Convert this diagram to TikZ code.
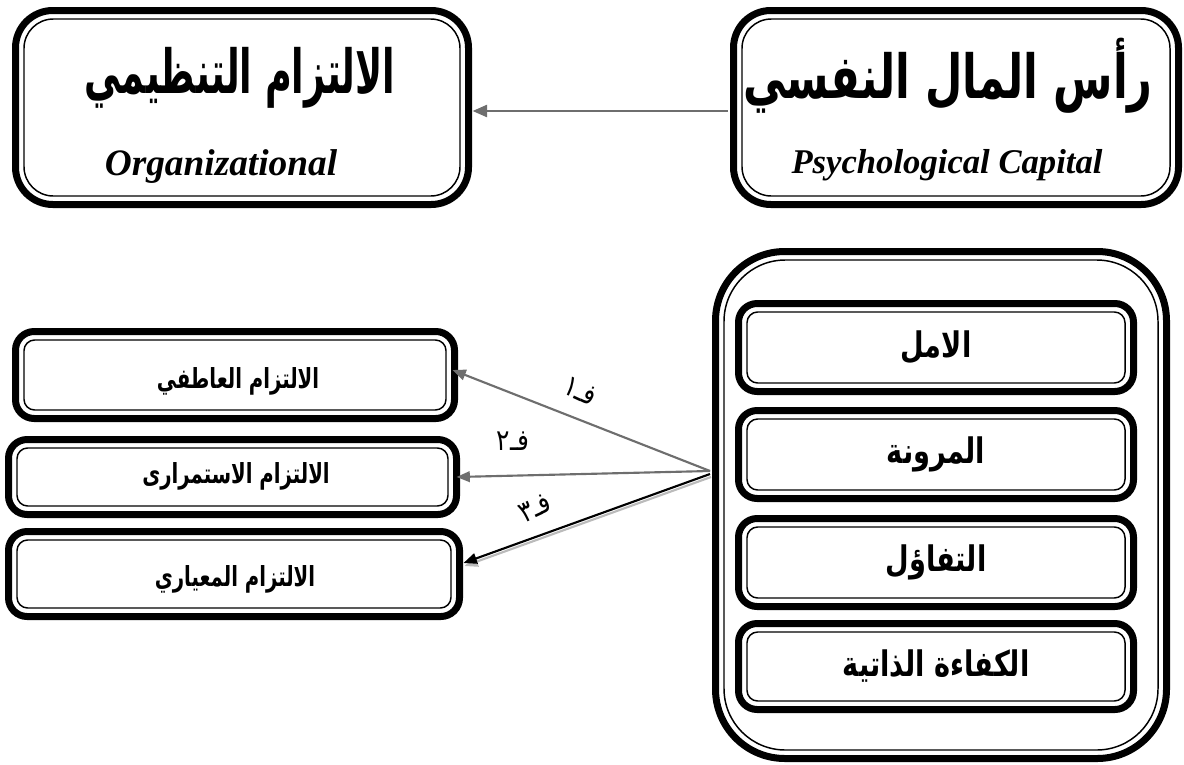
\documentclass[tikz,border=0pt]{standalone}
\usepackage{fontspec}
\usepackage{graphicx}
\usetikzlibrary{arrows.meta,fit,calc}
\TeXXeTstate=1
\newfontfamily\arabicfont[Script=Arabic]{DejaVu Sans}
\newfontfamily\enfont{Liberation Serif}
\definecolor{arrgray}{HTML}{6E6E6E}
\definecolor{shadowgray}{HTML}{BBBBBB}
\newcommand\dblbox[5]{%
  \node[fit={#2 #3}, boxouter, rounded corners=#4] (#1) {};
  \draw[boxinner, rounded corners=#5] ($(#1.north west)+(8.5,8.5)$) rectangle ($(#1.south east)+(-8.5,-8.5)$);
}
\newcommand\arb[1]{\arabicfont\fontsize{#1}{#1}\selectfont\bfseries}
\newcommand\arr[1]{\arabicfont\fontsize{#1}{#1}\selectfont}
\newcommand\enb[1]{\enfont\fontsize{#1}{#1}\selectfont\bfseries\itshape}
\tikzset{
  boxouter/.style={draw=black, line width=5.25pt, inner sep=0pt, outer sep=0pt},
  boxinner/.style={draw=black, line width=1.1pt},
  conn/.style={draw=arrgray, line width=1.6pt, -{Triangle[length=10pt,width=8pt]}},
  conntop/.style={draw=arrgray, line width=2pt, -{Triangle[length=11pt,width=9pt]}},
  connblack/.style={draw=black, line width=1.6pt, -{Triangle[length=10pt,width=8pt]}},
  connshadow/.style={draw=shadowgray, line width=1.6pt, -{Triangle[length=10pt,width=8pt]}},
  txt/.style={inner sep=0pt, anchor=center},
}
\begin{document}
\begin{tikzpicture}[x=0.75pt, y=-0.75pt]
\useasboundingbox (0,0) rectangle (1184,764);
% top boxes
\dblbox{TL}{(15.5,10.5)}{(468.5,204.5)}{28pt}{22pt}
\dblbox{TR}{(733.5,10.5)}{(1178.5,204.5)}{28pt}{22pt}
\node[txt] (tlar) at (240,78) {\scalebox{0.72}[1.2]{\arb{38pt}\beginR الالتزام التنظيمي\endR}};
\node[txt] (tlen) at (221,167) {\enb{28pt}Organizational};
\node[txt] (trar) at (948,76) {\scalebox{0.85}[1.2]{\arb{38pt}\beginR رأس المال النفسي\endR}};
\node[txt] (tren) at (947,165) {\enb{26pt}Psychological Capital};
\draw[conntop, shorten <=4.5pt, shorten >=3pt] (TR.west |- 0,111) -- (TL.east |- 0,111);
% left boxes
\dblbox{L1}{(15.5,331.5)}{(454.5,418.5)}{14pt}{8pt}
\dblbox{L2}{(8.5,439.5)}{(456.5,514.5)}{14pt}{8pt}
\dblbox{L3}{(8.5,531.5)}{(459.5,616.5)}{14pt}{8pt}
\node[txt] (t1) at (238,381) {\scalebox{0.82}[1.15]{\arb{18pt}\beginR الالتزام العاطفي\endR}};
\node[txt] (t2) at (236,476) {\scalebox{0.82}[1.15]{\arb{18pt}\beginR الالتزام الاستمرارى\endR}};
\node[txt] (t3) at (235,579) {\scalebox{0.82}[1.15]{\arb{18pt}\beginR الالتزام المعياري\endR}};
% big box
\dblbox{BIG}{(715.5,251.5)}{(1166.5,758.5)}{52pt}{46pt}
\dblbox{R1}{(738.5,303.5)}{(1133.5,391.5)}{14pt}{8pt}
\dblbox{R2}{(738.5,410.5)}{(1133.5,498.5)}{14pt}{8pt}
\dblbox{R3}{(738.5,518.5)}{(1133.5,606.5)}{14pt}{8pt}
\dblbox{R4}{(738.5,623.5)}{(1133.5,709.5)}{14pt}{8pt}
\node[txt] (r1) at (R1.center) {\scalebox{0.85}[1.1]{\arb{24pt}\beginR الامل\endR}};
\node[txt] (r2) at (R2.center) {\scalebox{0.85}[1.1]{\arb{24pt}\beginR المرونة\endR}};
\node[txt] (r3) at (R3.center) {\scalebox{0.85}[1.1]{\arb{24pt}\beginR التفاؤل\endR}};
\node[txt] (r4) at (R4.center) {\scalebox{0.85}[1.1]{\arb{24pt}\beginR الكفاءة الذاتية\endR}};
% connectors
\coordinate (src) at (710,471);
\coordinate (srcb) at (710,474);
\draw[conn] (src) -- ($(L1.east)+(-2,-5)$);
\draw[conn] (src) -- (L2.east);
\draw[connshadow] ($(srcb)+(1,3)$) -- ($(L3.east)+(5,-8)$);
\draw[connblack] (srcb) -- ($(L3.east)+(4,-11)$);
\node[txt, rotate=-25] (f1) at (580,391) {\scalebox{0.85}[1]{\arr{22pt}\beginR فـ١\endR}};
\node[txt] (f2) at (513,441) {\scalebox{0.85}[1]{\arr{22pt}\beginR فـ٢\endR}};
\node[txt, rotate=25] (f3) at (535,508) {\scalebox{0.85}[1]{\arr{22pt}\beginR فـ٣\endR}};
\end{tikzpicture}
\end{document}
